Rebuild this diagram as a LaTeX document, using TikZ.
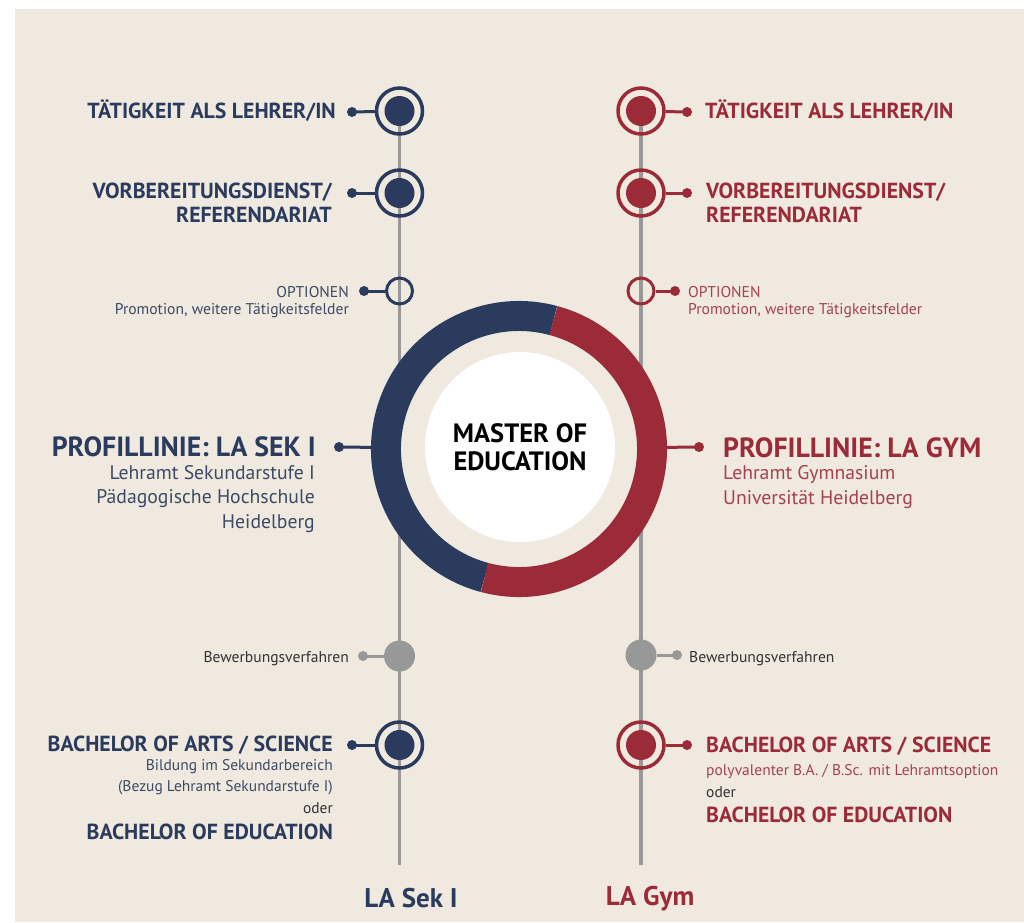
\documentclass[tikz,border=0pt]{standalone}
\usepackage{fontspec}
\setmainfont{PT Sans}
\definecolor{navy}{HTML}{2B3B5E}
\definecolor{wine}{HTML}{9B2B39}
\definecolor{bgc}{HTML}{EFE9DF}
\definecolor{lgray}{HTML}{989898}
\definecolor{txtdark}{HTML}{333333}
\definecolor{navytxt}{HTML}{3D4A66}
\definecolor{winetxt}{HTML}{A5424E}
\begin{document}
\begin{tikzpicture}[x=1pt,y=-1pt,
 ringc/.style={circle,draw,line width=3.5pt,minimum size=46pt,inner sep=0pt},
 core/.style={circle,fill,minimum size=30pt,inner sep=0pt},
 opt/.style={circle,draw,line width=3pt,minimum size=26pt,inner sep=0pt},
 gdisc/.style={circle,fill=lgray,minimum size=31pt,inner sep=0pt},
 dotn/.style={circle,fill,minimum size=10pt,inner sep=0pt},
 conn/.style={line width=3pt},
 vline/.style={line width=3.5pt,draw=lgray},
 lblbig/.style={font={\fontsize{21.8pt}{24pt}\selectfont\bfseries}, inner sep=0pt},
 lblhuge/.style={font={\fontsize{27.8pt}{30pt}\selectfont\bfseries}, inner sep=0pt},
 lblmid/.style={font={\fontsize{19.7pt}{24.3pt}\selectfont}, inner sep=0pt},
 lblsmall/.style={font={\fontsize{15.6pt}{17pt}\selectfont}, inner sep=0pt},
 lblxs/.style={font={\fontsize{15.5pt}{21pt}\selectfont}, inner sep=0pt},
]
\path[use as bounding box] (0,0) rectangle (1024,922);
\fill[bgc] (15,9) rectangle (1024,922);

% vertical lines
\coordinate (Lt) at (399.5,111); \coordinate (Lb) at (399.5,865);
\coordinate (Rt) at (641,111);   \coordinate (Rb) at (641,865);
\draw[vline] (Lt) -- (Lb);
\draw[vline] (Rt) -- (Rb);

% central ring
\coordinate (C) at (519,449);
\draw[navy,line width=30pt] (C) ++(75:133pt) arc[start angle=75,end angle=255,radius=133pt];
\draw[wine,line width=30pt] (C) ++(255:133pt) arc[start angle=255,end angle=435,radius=133pt];
\node[circle,minimum size=296pt,inner sep=0pt] (ringn) at (C) {};
\node[circle,fill=white,minimum size=190pt,inner sep=0pt,align=center,
      font={\fontsize{26.5pt}{28pt}\selectfont\bfseries}] (master) at (520,447) {MASTER OF\\EDUCATION};

% left column markers
\node[ringc,navy] (l1) at (Lt) {}; \node[core,navy] (l1c) at (l1) {};
\node[dotn,navy] (l1d) at (352,112) {}; \draw[conn,navy] (l1d.center) -- (l1);
\node[ringc,navy] (l2) at (399.5,193) {}; \node[core,navy] (l2c) at (l2) {};
\node[dotn,navy] (l2d) at (352,193) {}; \draw[conn,navy] (l2d.center) -- (l2);
\node[opt,navy] (l3) at (399.5,291) {};
\node[dotn,navy] (l3d) at (364,291) {}; \draw[conn,navy] (l3d.center) -- (l3);
\node[dotn,navy] (l4d) at (339,447) {}; \draw[conn,navy] (l4d.center) -- (ringn);
\node[gdisc] (l5) at (399.5,656) {};
\node[dotn,lgray] (l5d) at (363,656) {}; \draw[conn,lgray] (l5d.center) -- (l5);
\node[ringc,navy] (l6) at (399.5,745) {}; \node[core,navy] (l6c) at (l6) {};
\node[dotn,navy] (l6d) at (352,745) {}; \draw[conn,navy] (l6d.center) -- (l6);

% right column markers
\node[ringc,wine] (r1) at (Rt) {}; \node[core,wine] (r1c) at (r1) {};
\node[dotn,wine] (r1d) at (687,112) {}; \draw[conn,wine] (r1d.center) -- (r1);
\node[ringc,wine] (r2) at (641,193) {}; \node[core,wine] (r2c) at (r2) {};
\node[dotn,wine] (r2d) at (687,193) {}; \draw[conn,wine] (r2d.center) -- (r2);
\node[opt,wine] (r3) at (641,291) {};
\node[dotn,wine] (r3d) at (675,291) {}; \draw[conn,wine] (r3d.center) -- (r3);
\node[dotn,wine] (r4d) at (699,447) {}; \draw[conn,wine] (r4d.center) -- (ringn);
\node[gdisc] (r5) at (641,655) {};
\node[dotn,lgray] (r5d) at (677,655) {}; \draw[conn,lgray] (r5d.center) -- (r5);
\node[ringc,wine] (r6) at (641,745) {}; \node[core,wine] (r6c) at (r6) {};
\node[dotn,wine] (r6d) at (687,745) {}; \draw[conn,wine] (r6d.center) -- (r6);

% left texts (multi-line nodes: base = last line)
\node[lblbig,navy,anchor=base east] (t1l) at (336,118) {TÄTIGKEIT ALS LEHRER/IN};
\node[lblbig,navy,anchor=base east,align=right] (t2l) at (332,222) {VORBEREITUNGSDIENST/\\REFERENDARIAT};
\node[lblsmall,navytxt,anchor=base east,align=right] (t3l) at (349,314) {OPTIONEN\\Promotion, weitere Tätigkeitsfelder};
\node[lblhuge,navy,anchor=base east] (t4l) at (316,456) {PROFILLINIE: LA SEK I};
\node[lblmid,navytxt,anchor=base east,align=right] (t4sl) at (315,528) {Lehramt Sekundarstufe I\\Pädagogische Hochschule\\Heidelberg};
\node[lblsmall,txtdark,anchor=base east] (t5l) at (349,662) {Bewerbungsverfahren};
\node[lblbig,navy,anchor=base east] (t6l) at (333,751) {BACHELOR OF ARTS / SCIENCE};
\node[lblxs,navytxt,anchor=base east,align=right] (t6sl) at (333,791) {Bildung im Sekundarbereich\\(Bezug Lehramt Sekundarstufe I)};
\node[lblxs,txtdark,anchor=base east] (t6ol) at (333,813) {oder};
\node[lblbig,navy,anchor=base east] (t6bl) at (333,839) {BACHELOR OF EDUCATION};

% right texts
\node[lblbig,wine,anchor=base west] (t1r) at (705,118) {TÄTIGKEIT ALS LEHRER/IN};
\node[lblbig,wine,anchor=base west,align=left] (t2r) at (706,222) {VORBEREITUNGSDIENST/\\REFERENDARIAT};
\node[lblsmall,winetxt,anchor=base west,align=left] (t3r) at (688,314) {OPTIONEN\\Promotion, weitere Tätigkeitsfelder};
\node[lblhuge,wine,anchor=base west] (t4r) at (723,457) {PROFILLINIE: LA GYM};
\node[lblmid,winetxt,anchor=base west,align=left] (t4sr) at (723,504) {Lehramt Gymnasium\\Universität Heidelberg};
\node[lblsmall,txtdark,anchor=base west] (t5r) at (689,662) {Bewerbungsverfahren};
\node[lblbig,wine,anchor=base west] (t6r) at (706,752) {BACHELOR OF ARTS / SCIENCE};
\node[lblxs,winetxt,anchor=base west] (t6sr) at (706,775) {polyvalenter B.A. / B.Sc. mit Lehramtsoption};
\node[lblxs,txtdark,anchor=base west] (t6or) at (706,797) {oder};
\node[lblbig,wine,anchor=base west] (t6br) at (706,822) {BACHELOR OF EDUCATION};

% column labels
\node[font={\fontsize{27pt}{30pt}\selectfont\bfseries},navy,anchor=base,inner sep=0pt] (colL) at (411,907) {LA Sek I};
\node[font={\fontsize{27pt}{30pt}\selectfont\bfseries},wine,anchor=base,inner sep=0pt] (colR) at (650,905) {LA Gym};
\end{tikzpicture}
\end{document}
